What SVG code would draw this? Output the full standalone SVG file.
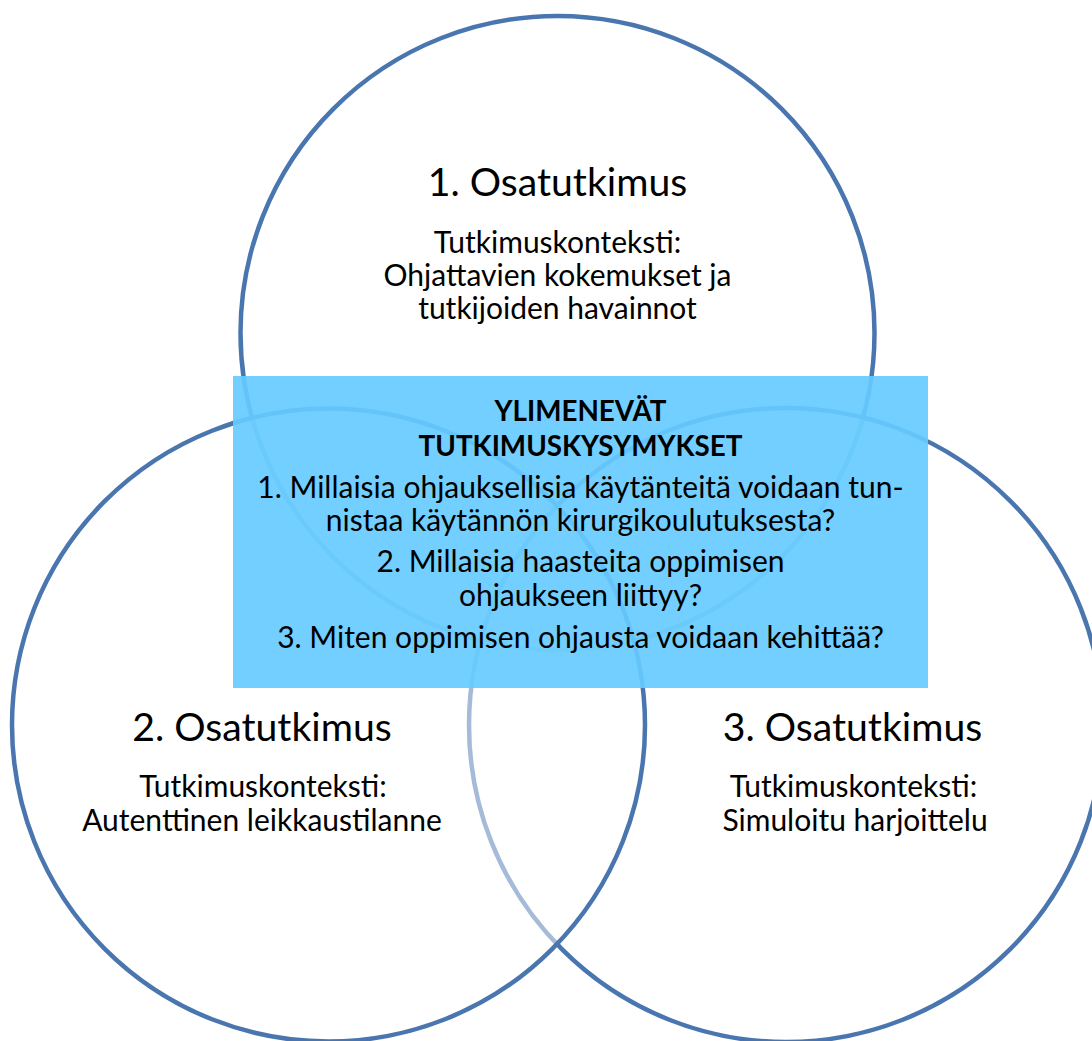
<svg xmlns="http://www.w3.org/2000/svg" width="1092" height="1041" viewBox="0 0 1092 1041">
<style>
.circ{fill:#ffffff;fill-opacity:0.5;stroke:#4A76AF;stroke-width:4.5}
.h{font-family:Lato,"Liberation Sans",sans-serif;font-size:39.2px;fill:#000;text-anchor:middle}
.t{font-family:Lato,"Liberation Sans",sans-serif;font-size:30px;fill:#000;text-anchor:middle}
.b{font-family:Lato,"Liberation Sans",sans-serif;font-size:27.8px;font-weight:bold;fill:#000;text-anchor:middle}
</style>
<rect width="1092" height="1041" fill="#ffffff"/>
<g id="circle-1">
<circle class="circ" cx="557.5" cy="333" r="317"/>
</g>
<g id="circle-3">
<circle class="circ" cx="786" cy="725" r="317"/>
</g>
<g id="circle-2">
<circle class="circ" cx="328.5" cy="725" r="316.5"/>
</g>
<g id="connectors"></g>
<g id="questions">
<rect x="233" y="376" width="695" height="312" fill="#66CBFF" fill-opacity="0.92"/>
<text class="b" x="580.5" y="421">YLIMENEVÄT</text>
<text class="b" x="580.5" y="456">TUTKIMUSKYSYMYKSET</text>
<text class="t" x="580.5" y="498">1. Millaisia ohjauksellisia käytänteitä voidaan tun-</text>
<text class="t" x="580.5" y="531">nistaa käytännön kirurgikoulutuksesta?</text>
<text class="t" x="580.5" y="572">2. Millaisia haasteita oppimisen</text>
<text class="t" x="580.5" y="606">ohjaukseen liittyy?</text>
<text class="t" x="580.5" y="648">3. Miten oppimisen ohjausta voidaan kehittää?</text>
</g>
<g id="label-1">
<text class="h" x="557.5" y="196">1. Osatutkimus</text>
<text class="t" x="557.5" y="253">Tutkimuskonteksti:</text>
<text class="t" x="557.5" y="286">Ohjattavien kokemukset ja</text>
<text class="t" x="557.5" y="319">tutkijoiden havainnot</text>
</g>
<g id="label-2">
<text class="h" x="262" y="741">2. Osatutkimus</text>
<text class="t" x="263" y="797">Tutkimuskonteksti:</text>
<text class="t" x="262" y="831">Autenttinen leikkaustilanne</text>
</g>
<g id="label-3">
<text class="h" x="852.5" y="741">3. Osatutkimus</text>
<text class="t" x="853.5" y="797">Tutkimuskonteksti:</text>
<text class="t" x="855" y="831">Simuloitu harjoittelu</text>
</g>
</svg>
